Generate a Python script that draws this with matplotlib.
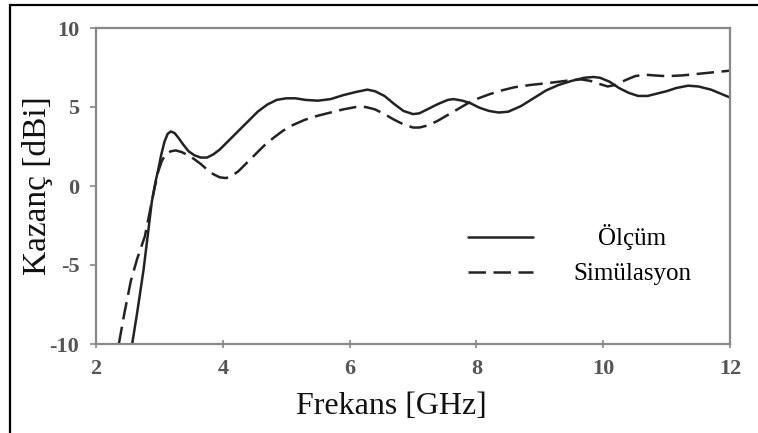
import matplotlib
matplotlib.use("Agg")
import matplotlib.pyplot as plt
from matplotlib.patches import Rectangle

plt.rcParams["axes.unicode_minus"] = False

# Kazanç ölçümü (GHz, dBi)
f_olcum = [2.57, 2.65, 2.75, 2.82, 2.88, 2.94, 2.98, 3.03, 3.08, 3.13, 3.18,
           3.24, 3.3, 3.38, 3.46, 3.55, 3.65, 3.75, 3.85, 3.95, 4.1, 4.25,
           4.4, 4.55, 4.7, 4.85, 5.0, 5.15, 5.3, 5.5, 5.7, 5.9, 6.1, 6.28,
           6.4, 6.55, 6.7, 6.85, 7.0, 7.1, 7.25, 7.4, 7.55, 7.64, 7.78, 7.9,
           8.05, 8.2, 8.35, 8.5, 8.7, 8.9, 9.1, 9.3, 9.5, 9.7, 9.85, 9.95,
           10.1, 10.25, 10.4, 10.55, 10.7, 10.85, 11.0, 11.15, 11.34, 11.5,
           11.7, 11.85, 12.0]
g_olcum = [-10, -8.0, -5.3, -3.0, -1.0, 0.3, 1.0, 2.0, 2.8, 3.3, 3.45,
           3.35, 3.05, 2.6, 2.2, 1.95, 1.8, 1.8, 2.0, 2.3, 2.9, 3.5,
           4.1, 4.7, 5.15, 5.45, 5.55, 5.55, 5.45, 5.4, 5.5, 5.75, 5.95, 6.1,
           6.0, 5.7, 5.2, 4.75, 4.55, 4.6, 4.9, 5.2, 5.45, 5.5, 5.4, 5.25,
           4.95, 4.75, 4.65, 4.7, 5.05, 5.55, 6.05, 6.4, 6.65, 6.85, 6.9, 6.85,
           6.6, 6.2, 5.9, 5.7, 5.7, 5.85, 6.0, 6.2, 6.35, 6.3,
           6.1, 5.85, 5.6]

# Simülasyon sonuçları
f_sim = [2.36, 2.45, 2.55, 2.65, 2.77, 2.85, 2.92, 2.98, 3.04, 3.1, 3.18,
         3.26, 3.35, 3.45, 3.55, 3.65, 3.75, 3.85, 3.95, 4.05, 4.15, 4.25,
         4.35, 4.5, 4.65, 4.8, 4.95, 5.1, 5.3, 5.5, 5.7, 5.9, 6.1, 6.25,
         6.4, 6.55, 6.7, 6.85, 7.0, 7.1, 7.25, 7.4, 7.55, 7.7, 7.85, 8.0,
         8.2, 8.4, 8.6, 8.86, 9.1, 9.3, 9.5, 9.65, 9.8, 9.95, 10.07, 10.2,
         10.35, 10.5, 10.65, 10.8, 11.0, 11.25, 11.5, 11.75, 12.0]
g_sim = [-10, -8.0, -6.0, -4.6, -3.2, -1.6, -0.2, 0.9, 1.6, 2.0, 2.2,
         2.25, 2.15, 1.95, 1.7, 1.4, 1.05, 0.75, 0.55, 0.5, 0.65, 0.95,
         1.35, 1.95, 2.55, 3.05, 3.5, 3.85, 4.2, 4.45, 4.65, 4.85, 5.0, 5.0,
         4.85, 4.55, 4.2, 3.9, 3.7, 3.7, 3.85, 4.15, 4.5, 4.85, 5.2, 5.5,
         5.8, 6.05, 6.25, 6.4, 6.5, 6.6, 6.7, 6.75, 6.65, 6.45, 6.3, 6.4,
         6.7, 6.95, 7.05, 7.0, 6.95, 7.0, 7.1, 7.2, 7.3]

x_ticks = [2, 4, 6, 8, 10, 12]
y_ticks = [-10, -5, 0, 5, 10]

serif = ["Liberation Serif", "DejaVu Serif"]

fig = plt.figure(figsize=(7.58, 4.33), dpi=100)
ax = fig.add_axes([96 / 758, 1 - 344 / 433, 634 / 758, 316 / 433])

ax.plot(f_olcum, g_olcum, color="#222222", lw=1.8, solid_joinstyle="round",
        solid_capstyle="round", label="Ölçüm")
ax.plot(f_sim, g_sim, color="#222222", lw=1.8, dashes=(7, 3),
        dash_joinstyle="round", label="Simülasyon")

ax.set_xlim(2, 12)
ax.set_ylim(-10, 10)
ax.set_xticks(x_ticks)
ax.set_yticks(y_ticks)

for sp in ax.spines.values():
    sp.set_color("#888888")
    sp.set_linewidth(1.6)

ax.tick_params(axis="y", direction="out", length=4, width=1.2, color="#888888",
               pad=8, labelsize=16, labelcolor="#555555")
ax.tick_params(axis="x", direction="inout", length=6, width=1.2, color="#888888",
               pad=8, labelsize=16, labelcolor="#555555")
for lab in ax.get_xticklabels() + ax.get_yticklabels():
    lab.set_family(serif)
    lab.set_fontweight("bold")

ax.set_xlabel("Frekans [GHz]", family=serif, fontsize=23, color="#111111")
ax.xaxis.set_label_coords(0.466, -0.152)
ax.set_ylabel("Kazanç [dBi]", family=serif, fontsize=24, color="#111111")
ax.yaxis.set_label_coords(-0.068, 0.5)

leg = ax.legend(loc="center left", bbox_to_anchor=(0.552, 0.282), frameon=False,
                handlelength=2.6, handletextpad=1.6, labelspacing=0.5,
                prop={"family": serif, "size": 18}, alignment="left")

# etiketleri ortala
fig.canvas.draw()
renderer = fig.canvas.get_renderer()
widths = [t.get_window_extent(renderer).width for t in leg.get_texts()]
w_max = max(widths)
for t, w in zip(leg.get_texts(), widths):
    t.set_position(((w_max - w) / 2, 0))

# dış çerçeve
fig.patches.append(Rectangle((10 / 758, -0.05), 1.0, 1 - 5 / 433 + 0.05,
                             transform=fig.transFigure, fill=False,
                             edgecolor="black", lw=1.6))

fig.savefig("out.png", dpi=100)
